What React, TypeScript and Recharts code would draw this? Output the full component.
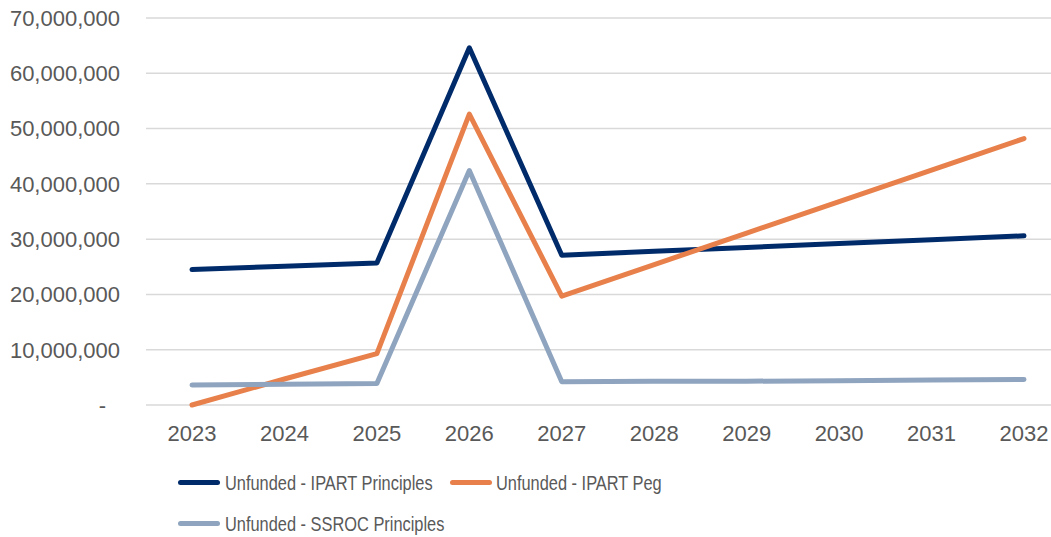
import React from "react";
import { LineChart, Line, XAxis, YAxis, CartesianGrid, Legend } from "recharts";

const years = ["2023", "2024", "2025", "2026", "2027", "2028", "2029", "2030", "2031", "2032"];
const ipartPrinciples = [24.5, 25.1, 25.7, 64.6, 27.1, 27.8, 28.5, 29.2, 29.9, 30.6];
const ipartPeg = [0, 4.7, 9.3, 52.6, 19.7, 25.4, 31.1, 36.8, 42.5, 48.2];
const ssrocPrinciples = [3.6, 3.75, 3.9, 42.4, 4.2, 4.3, 4.3, 4.4, 4.5, 4.6];
const yTicks = [0, 10000000, 20000000, 30000000, 40000000, 50000000, 60000000, 70000000];

const seriesNames = ["Unfunded - IPART Principles", "Unfunded - IPART Peg", "Unfunded - SSROC Principles"];
const seriesColors = ["#002B6B", "#E8804B", "#8FA4BF"];

const data = years.map((y, i) => ({
  year: y,
  a: ipartPrinciples[i] * 1e6,
  b: ipartPeg[i] * 1e6,
  c: ssrocPrinciples[i] * 1e6,
}));

const FONT = "'Liberation Sans', Arial, sans-serif";
const TEXT = "#595959";

const YTick = (props: any) => {
  const { x, y, payload } = props;
  const v = payload.value;
  const label = v === 0 ? "-" : v.toLocaleString("en-US");
  return (
    <text x={v === 0 ? x - 14 : x} y={y} dy="0.36em" textAnchor="end" fill={TEXT} fontSize={22} fontFamily={FONT}>
      {label}
    </text>
  );
};

const legendItems = [
  { name: seriesNames[0], color: seriesColors[0], mx: 178, tx: 225, cy: 482, top: 470.7 },
  { name: seriesNames[1], color: seriesColors[1], mx: 450, tx: 496, cy: 482, top: 470.7 },
  { name: seriesNames[2], color: seriesColors[2], mx: 178, tx: 225, cy: 523, top: 511.7 },
];

const LegendContent = () => (
  <div style={{ position: "relative", width: 1051, height: 537 }}>
    {legendItems.map((it) => (
      <React.Fragment key={it.name}>
        <div
          style={{
            position: "absolute",
            left: it.mx,
            top: it.cy - 2.5,
            width: 42,
            height: 5,
            borderRadius: 3,
            background: it.color,
          }}
        />
        <div
          style={{
            position: "absolute",
            left: it.tx,
            top: it.top,
            fontFamily: FONT,
            fontSize: 21,
            lineHeight: "24px",
            color: TEXT,
            whiteSpace: "nowrap",
            transform: "scaleX(0.78)",
            transformOrigin: "left center",
          }}
        >
          {it.name}
        </div>
      </React.Fragment>
    ))}
  </div>
);

export default function App() {
  return (
    <div style={{ position: "absolute", left: 0, top: 0, width: 1051, height: 537, overflow: "hidden", background: "#fff" }}>
      <LineChart width={1070} height={537} data={data} margin={{ top: 18, right: 0, left: 0, bottom: 92 }}>
        <CartesianGrid vertical={false} stroke="#D9D9D9" strokeWidth={1.5} />
        <XAxis
          dataKey="year"
          axisLine={false}
          tickLine={false}
          tickSize={0}
          tickMargin={20}
          height={40}
          padding={{ left: 46, right: 46 }}
          tick={{ fill: TEXT, fontSize: 22, fontFamily: FONT }}
          interval={0}
        />
        <YAxis
          width={146}
          domain={[0, 70000000]}
          ticks={yTicks}
          axisLine={false}
          tickLine={false}
          tickSize={0}
          tickMargin={26}
          tick={<YTick />}
          interval={0}
        />
        <Legend
          layout="horizontal"
          verticalAlign="middle"
          align="center"
          wrapperStyle={{ top: 0, left: 0, width: 1051, height: 537, pointerEvents: "none" }}
          content={<LegendContent />}
        />
        <Line type="linear" dataKey="a" name={seriesNames[0]} stroke={seriesColors[0]} strokeWidth={5} dot={false} strokeLinecap="round" strokeLinejoin="round" isAnimationActive={false} />
        <Line type="linear" dataKey="b" name={seriesNames[1]} stroke={seriesColors[1]} strokeWidth={5} dot={false} strokeLinecap="round" strokeLinejoin="round" isAnimationActive={false} />
        <Line type="linear" dataKey="c" name={seriesNames[2]} stroke={seriesColors[2]} strokeWidth={5} dot={false} strokeLinecap="round" strokeLinejoin="round" isAnimationActive={false} />
      </LineChart>
    </div>
  );
}
